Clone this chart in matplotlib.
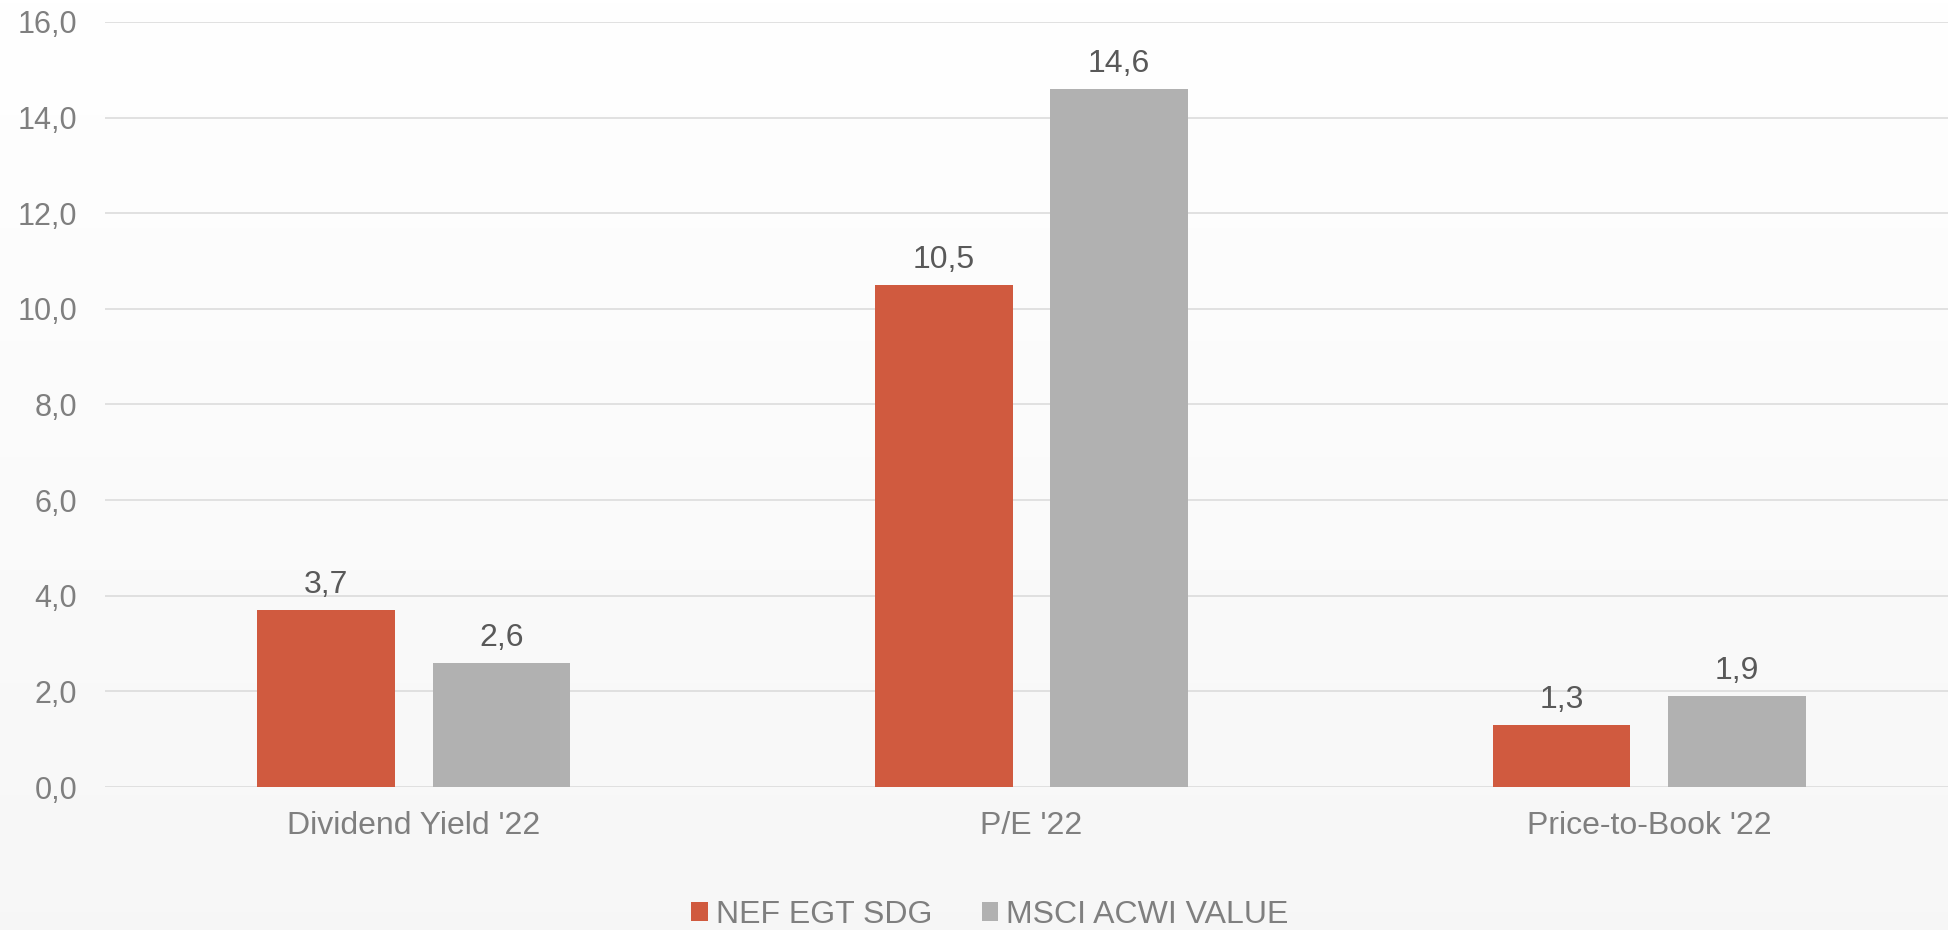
import numpy as np
import matplotlib.pyplot as plt
from matplotlib.patches import Patch
from matplotlib.ticker import FuncFormatter

categories = ["Dividend Yield '22", "P/E '22", "Price-to-Book '22"]
series_names = ["NEF EGT SDG", "MSCI ACWI VALUE"]
nef_values = [3.7, 10.5, 1.3]
msci_values = [2.6, 14.6, 1.9]
y_ticks = [0, 2, 4, 6, 8, 10, 12, 14, 16]

RED = "#D05A3F"
GREY = "#B1B1B1"
TICK_COLOR = "#7F7F7F"
LABEL_COLOR = "#595959"
GRID_COLOR = "#DCDCDC"
FONT = "Liberation Sans"
FS = 23

plt.rcParams["font.family"] = [FONT, "DejaVu Sans"]

W, H = 1949, 930
fig = plt.figure(figsize=(W / 100, H / 100), dpi=100)

# soft vertical gradient behind everything
bg = fig.add_axes([0, 0, 1, 1], zorder=0)
grad = np.linspace(1.0, 0.968, 256).reshape(-1, 1)
bg.imshow(np.dstack([grad, grad, grad]), aspect="auto", extent=[0, 1, 0, 1],
          origin="upper")
bg.set_axis_off()

left, right, top, bottom = 105, 1958, 22, 787
ax = fig.add_axes([left / W, (H - bottom) / H, (right - left) / W, (bottom - top) / H],
                  zorder=1)
ax.set_facecolor("none")

x = np.arange(len(categories))
bw = 0.223
off = 0.142
b1 = ax.bar(x - off, nef_values, bw, color=RED, zorder=3)
b2 = ax.bar(x + off, msci_values, bw, color=GREY, zorder=3)

fmt = lambda v: f"{v:.1f}".replace(".", ",")
for bars, vals in ((b1, nef_values), (b2, msci_values)):
    for rect, v in zip(bars, vals):
        ax.annotate(fmt(v), (rect.get_x() + rect.get_width() / 2, v),
                    xytext=(0, 7), textcoords="offset points",
                    ha="center", va="bottom", fontsize=FS, color=LABEL_COLOR)

ax.set_xlim(-0.5, len(categories) - 0.5)
ax.set_ylim(0, 16)
ax.set_yticks(y_ticks)
ax.yaxis.set_major_formatter(FuncFormatter(lambda v, p: fmt(v)))
ax.set_xticks(x)
ax.set_xticklabels(categories)
ax.tick_params(axis="y", length=0, pad=20, labelsize=22, labelcolor=TICK_COLOR)
ax.tick_params(axis="x", length=0, pad=17, labelsize=FS, labelcolor=TICK_COLOR)
ax.grid(axis="y", color=GRID_COLOR, linewidth=1.2, zorder=0)
ax.set_axisbelow(True)
for s in ax.spines.values():
    s.set_visible(False)

handles = [Patch(facecolor=RED, edgecolor="none"), Patch(facecolor=GREY, edgecolor="none")]
fig.legend(handles, series_names, loc="center", bbox_to_anchor=(0.508, 15 / H),
           ncol=2, frameon=False, fontsize=FS, labelcolor=TICK_COLOR,
           handlelength=0.52, handleheight=0.52, handletextpad=0.25,
           columnspacing=1.55, borderpad=0)

fig.savefig("out.png", dpi=100)
